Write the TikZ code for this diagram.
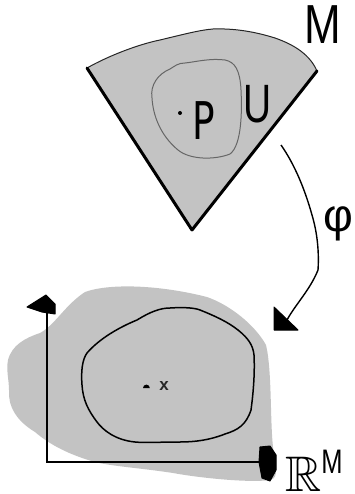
\documentclass[tikz,border=0pt]{standalone}
\usepackage{amssymb}
\usepackage{fontspec}
\newfontfamily\handfont{DejaVu Sans}
\newfontfamily\thinfont{Liberation Sans}
\usetikzlibrary{arrows.meta}
\definecolor{fillgray}{HTML}{C3C3C3}
\tikzset{
  x=1pt,y=-1pt,
  thickedge/.style={line width=3pt,line cap=round,line join=round},
  thinedge/.style={line width=1pt,draw=black!85},
  ucurve/.style={line width=1pt,draw=black!60},
  axisline/.style={line width=2.6pt},
  mapline/.style={line width=1.4pt},
  headfill/.style={fill=black,draw=black,line width=1pt,line join=round},
  lbl/.style={inner sep=0pt}
}
\begin{document}
\begin{tikzpicture}
\useasboundingbox (0,0) rectangle (355,494);
% ---------- manifold M ----------
\coordinate (tl) at (87,68);
\coordinate (tr) at (317,71);
\coordinate (tb) at (192,230);
\fill[fillgray] (tl) .. controls (110,55) and (140,44) .. (160,40)
  .. controls (185,34) and (200,30) .. (213,29)
  .. controls (240,28) and (262,34) .. (275,38)
  .. controls (295,45) and (310,55) .. (tr) -- (tb) -- cycle;
\draw[thinedge] (tl) .. controls (110,55) and (140,44) .. (160,40)
  .. controls (185,34) and (200,30) .. (213,29)
  .. controls (240,28) and (262,34) .. (275,38)
  .. controls (295,45) and (310,55) .. (tr);
\draw[thickedge] (tl) -- (tb) -- (tr);
% U region
\draw[ucurve] (170,69) .. controls (158,74) and (150,85) .. (152,98)
  .. controls (153,115) and (160,135) .. (178,150)
  .. controls (190,160) and (215,160) .. (230,154)
  .. controls (242,145) and (242,110) .. (241,90)
  .. controls (240,70) and (235,62) .. (225,60)
  .. controls (210,58) and (195,62) .. (185,63)
  .. controls (178,63) and (175,66) .. (170,69);
\fill (180,113) circle (2pt) coordinate (p);
\node[lbl,font=\handfont\fontsize{52}{52}\selectfont] (P) at (204,121) {\scalebox{0.72}[1]{P}};
\node[lbl,font=\thinfont\fontsize{54}{54}\selectfont] (U) at (258,104) {\scalebox{0.72}[1]{U}};
\node[lbl,font=\thinfont\fontsize{55}{55}\selectfont] (M) at (323,25) {\scalebox{0.8}[1]{M}};
% ---------- map phi ----------
\coordinate (phis) at (281,145);
\coordinate (phie) at (287,320);
\draw[mapline] (phis) .. controls (295,165) and (305,190) .. (312,215)
  .. controls (318,235) and (319,255) .. (318,270)
  .. controls (310,290) and (295,305) .. (phie);
\filldraw[headfill] (274,307) -- (298,330) -- (274,330) -- cycle;
\node[lbl,anchor=east,font=\thinfont\fontsize{46}{46}\selectfont] (phi) at (354,224) {φ};
% ---------- R^M ----------
\fill[fillgray] (8,360) .. controls (12,345) and (25,338) .. (40,333)
  .. controls (55,325) and (65,305) .. (85,292)
  .. controls (110,283) and (160,285) .. (207,297)
  .. controls (230,305) and (255,325) .. (266,345)
  .. controls (272,370) and (270,420) .. (273,447)
  .. controls (275,465) and (280,478) .. (270,480)
  .. controls (250,483) and (200,478) .. (173,473)
  .. controls (140,468) and (110,466) .. (95,462)
  .. controls (70,455) and (50,445) .. (35,432)
  .. controls (15,420) and (8,405) .. (9,390)
  .. controls (9,380) and (6,370) .. (8,360) -- cycle;
\draw[line width=1.5pt] (87,353) .. controls (100,338) and (120,327) .. (137,320)
  .. controls (150,312) and (160,308) .. (170,308)
  .. controls (185,307) and (195,308) .. (200,310)
  .. controls (215,316) and (228,322) .. (238,330)
  .. controls (248,338) and (253,345) .. (254,355)
  .. controls (255,375) and (253,395) .. (251,410)
  .. controls (246,425) and (238,430) .. (225,434)
  .. controls (210,440) and (195,442) .. (180,442)
  .. controls (160,442) and (145,443) .. (135,442)
  .. controls (115,440) and (103,430) .. (97,422)
  .. controls (88,410) and (83,400) .. (82,385)
  .. controls (81,372) and (82,360) .. (87,353) -- cycle;
% axes
\coordinate (O) at (47,462);
\coordinate (ytop) at (47,303);
\coordinate (xend) at (263,462);
\draw[axisline] (ytop) -- (O) -- (xend);
\filldraw[headfill] (27,307) -- (46,295) -- (55,304) -- (55,314) -- (42,312) -- cycle;
\filldraw[headfill] (260,447) -- (270,446) -- (276,455) -- (276,470) -- (270,481) -- (262,478) -- (259,462) -- cycle;
% point x
\fill (143,388) arc (180:0:3.4pt) -- cycle;
\coordinate (xpt) at (146,386);
\node[lbl,font=\thinfont\bfseries\fontsize{17}{17}\selectfont,text=black!85] (xlabel) at (164,386) {x};
\node[lbl,anchor=south west,font=\fontsize{50}{50}\selectfont] (RM) at (285,492)
  {$\mathbb{R}$\raisebox{18pt}{\thinfont\fontsize{34}{34}\selectfont\scalebox{0.75}[1]{M}}};
\end{tikzpicture}
\end{document}
